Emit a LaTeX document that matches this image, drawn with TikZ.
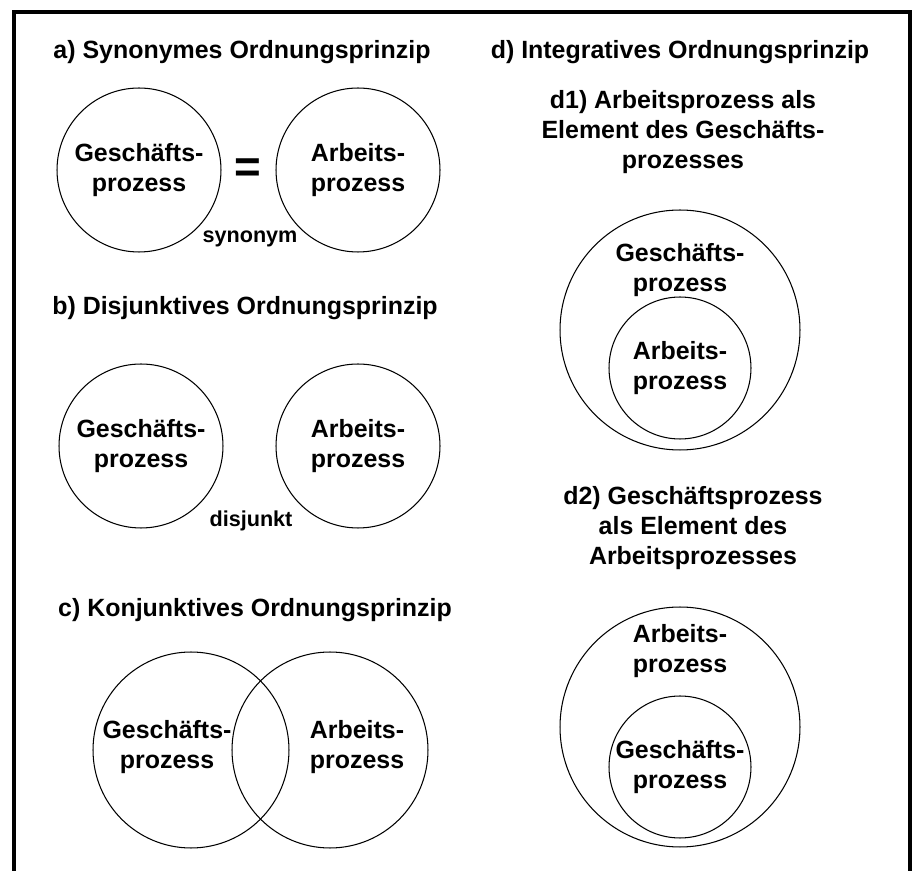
\documentclass[tikz,border=0pt]{standalone}
\usepackage{fontspec}
\setmainfont{Liberation Sans}
\usetikzlibrary{positioning}

\tikzset{
  kreis/.style={draw, circle, line width=0.6pt, inner sep=0pt,
    align=center},
  schrift/.style={font=\bfseries\fontsize{14.2}{17}\selectfont,
    align=center, inner sep=0pt},
  klein/.style={font=\bfseries\fontsize{12.3}{14}\selectfont,
    inner sep=0pt}
}

\begin{document}
\begin{tikzpicture}[x=0.02cm, y=-0.02cm]
    \useasboundingbox (0,0) rectangle (914,871);
    % Rahmen, unten offen
    \draw[line width=2pt] (14,890) -- (14,12) -- (910,12) -- (910,890);

    % a) synonym
    \node[schrift] (ta) at (242,52) {a) Synonymes Ordnungsprinzip};
    \node[kreis, schrift, minimum size=3.28cm] (ga) at (139,170)
      {Geschäfts-\\prozess};
    \node[kreis, schrift, minimum size=3.28cm] (aa) at (358,170)
      {Arbeits-\\prozess};
    \node[font=\bfseries\fontsize{26}{26}\selectfont, inner sep=0pt]
      (gleich) at (248,171) {=};
    \node[klein] (syn) at (250,239) {synonym};

    % b) disjunkt
    \node[schrift] (tb) at (245,308) {b) Disjunktives Ordnungsprinzip};
    \node[kreis, schrift, minimum size=3.28cm] (gb) at (141,446)
      {Geschäfts-\\prozess};
    \node[kreis, schrift, minimum size=3.28cm] (ab) at (358,446)
      {Arbeits-\\prozess};
    \node[klein] (dis) at (251,521) {disjunkt};

    % c) konjunkt
    \node[schrift] (tc) at (255,610) {c) Konjunktives Ordnungsprinzip};
    \node[kreis, minimum size=3.92cm] (gc) at (191,750) {};
    \node[kreis, minimum size=3.92cm] (ac) at (330,750) {};
    \node[schrift] (gctext) at (167,747) {Geschäfts-\\prozess};
    \node[schrift] (actext) at (357,747) {Arbeits-\\prozess};

    % d) integrativ
    \node[schrift] (td) at (680,52) {d) Integratives Ordnungsprinzip};
    \node[schrift] (td1) at (683,132)
      {d1) Arbeitsprozess als\\Element des Geschäfts-\\prozesses};
    \node[kreis, minimum size=4.8cm] (gd1) at (680,330) {};
    \node[kreis, schrift, minimum size=2.84cm] (ad1) at (680,368)
      {Arbeits-\\prozess};
    \node[schrift] (gd1text) at (680,270) {Geschäfts-\\prozess};

    \node[schrift] (td2) at (693,528)
      {d2) Geschäftsprozess\\als Element des\\Arbeitsprozesses};
    \node[kreis, minimum size=4.8cm] (ad2) at (680,727) {};
    \node[kreis, schrift, minimum size=2.84cm] (gd2) at (680,767)
      {Geschäfts-\\prozess};
    \node[schrift] (ad2text) at (680,651) {Arbeits-\\prozess};
\end{tikzpicture}
\end{document}
